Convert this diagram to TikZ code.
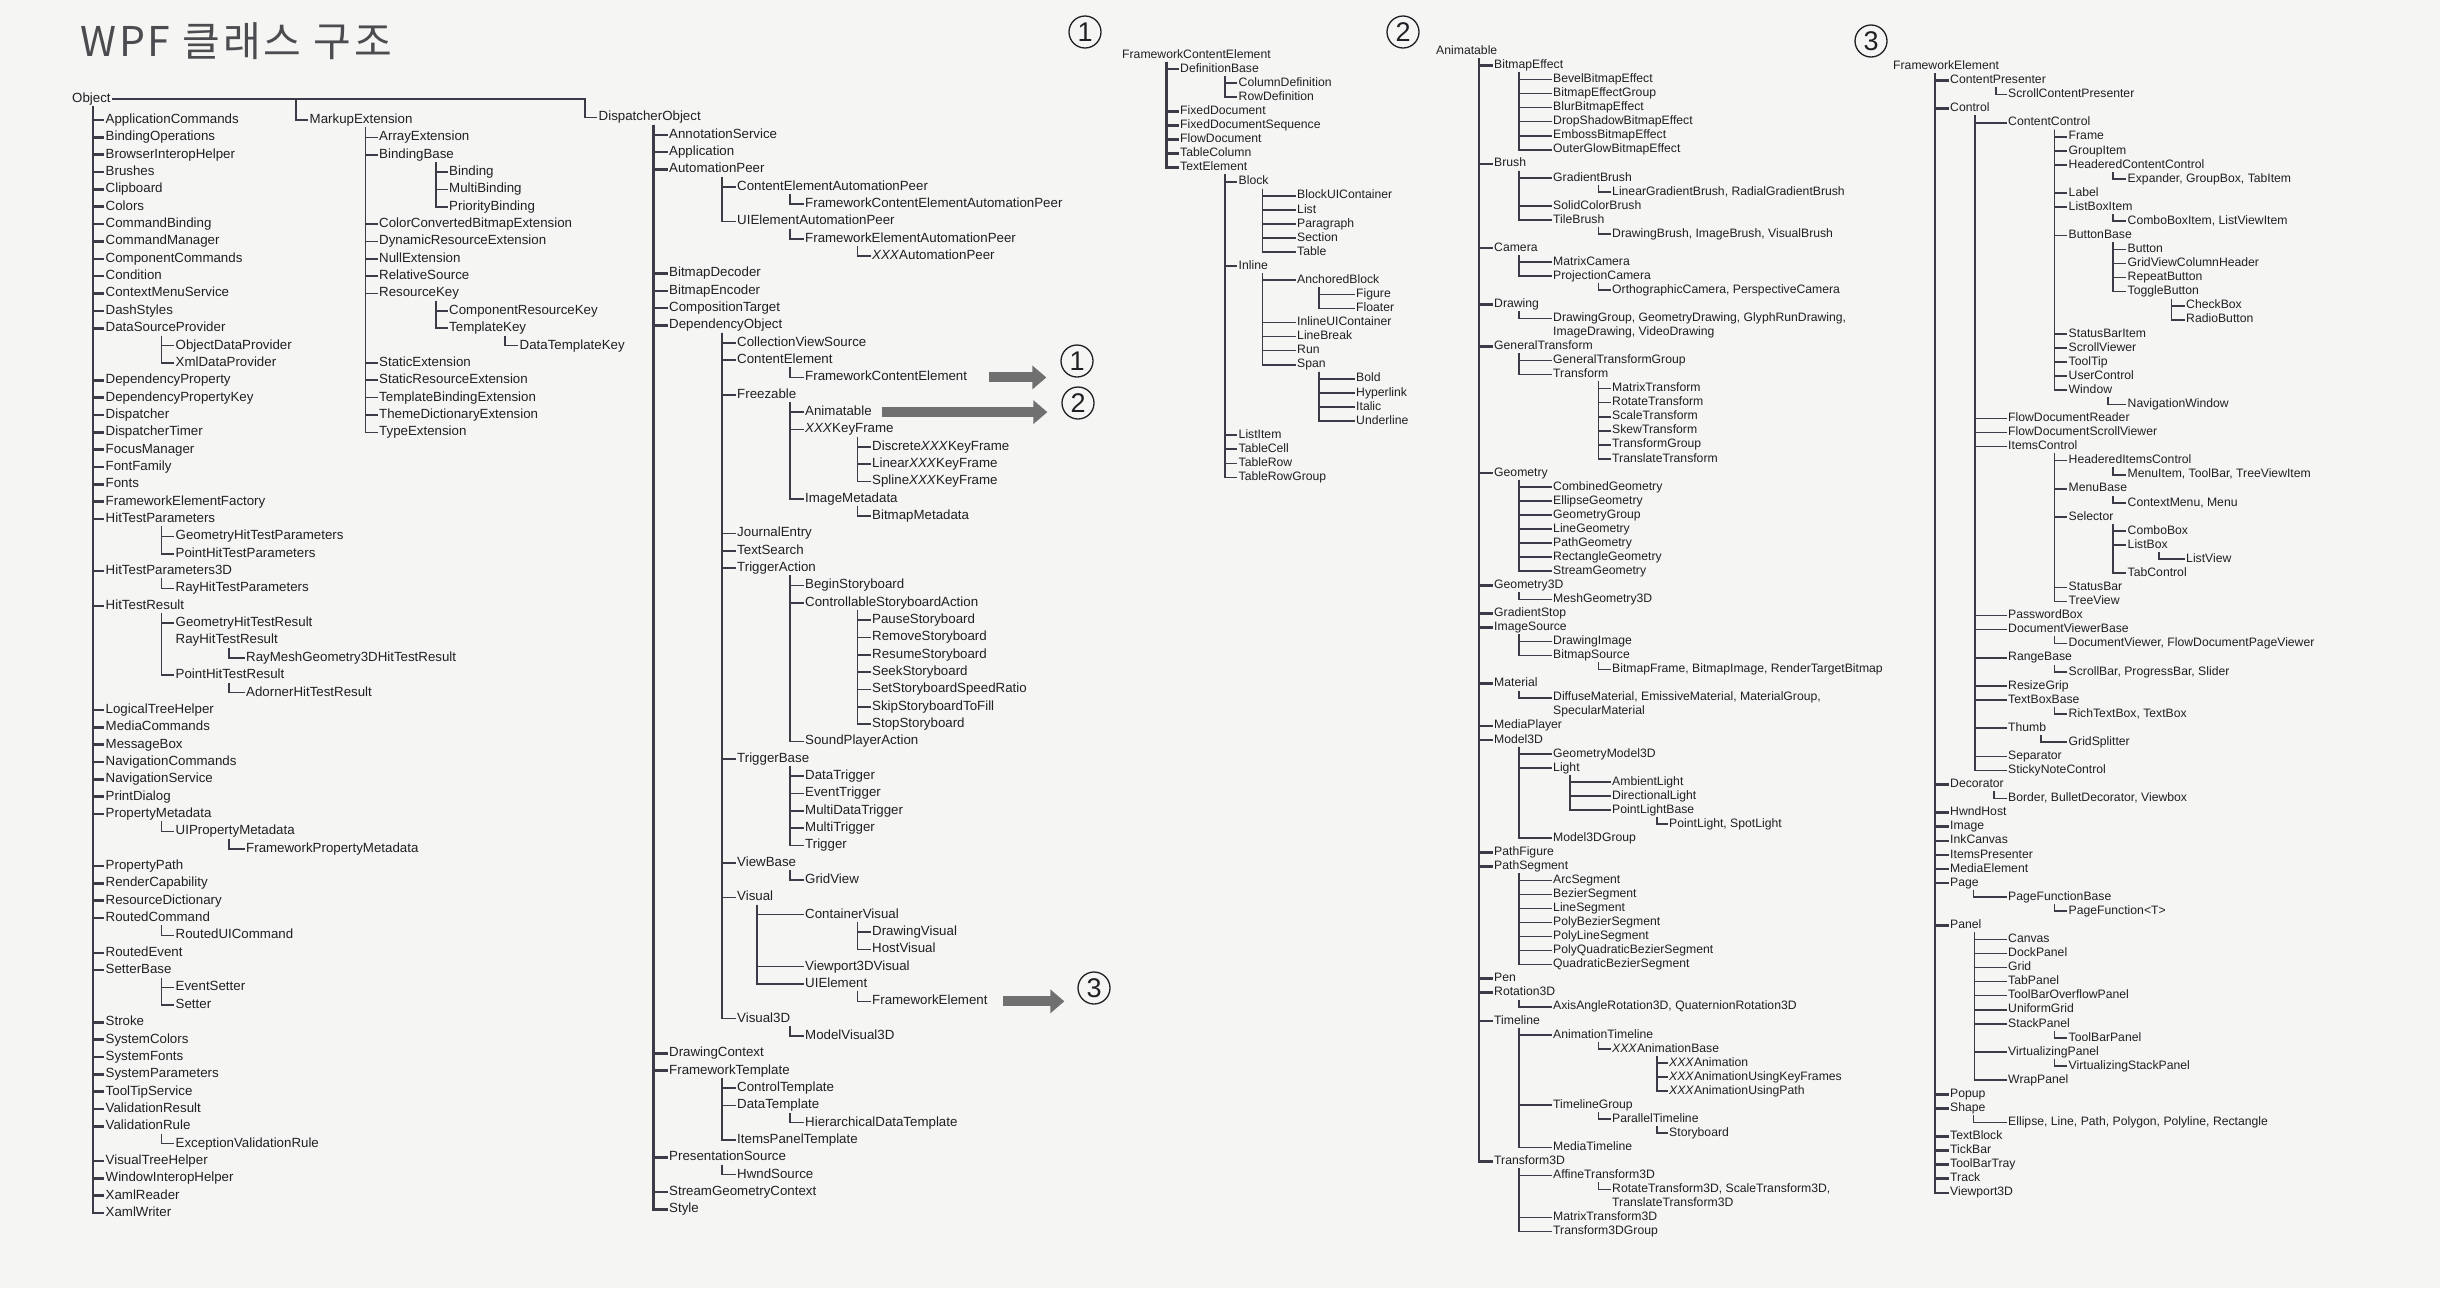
\documentclass[tikz,border=0pt]{standalone}
\usepackage{fontspec}
\setmainfont{Liberation Sans}
\newfontfamily\kofont[LetterSpace=7]{Noto Sans CJK KR}
\usetikzlibrary{calc,arrows.meta}

\definecolor{ink}{RGB}{32,32,36}
\definecolor{wire}{RGB}{60,60,72}
\definecolor{pointer}{RGB}{112,112,112}
\definecolor{paper}{RGB}{245,245,243}

\tikzset{
  cls/.style={anchor=west,inner xsep=1.5pt,inner ysep=1pt,text height=9.6pt,text depth=2.7pt,text=ink,font=\fontsize{13.3}{14}\selectfont},
  clsb/.style={cls,text height=8.8pt,text depth=2.5pt,font=\fontsize{12.2}{13}\selectfont},
  tie/.style={draw=wire,line width=1.6pt},
  trunk/.style={tie,line width=2.6pt},
  numring/.style={circle,draw=ink,line width=1.3pt,minimum size=32pt,inner sep=0pt,text=ink,font=\fontsize{27}{27}\selectfont},
  jump/.style={draw=pointer,line width=10pt,-{Triangle[length=14pt,width=23pt]}}
}

% parent -> children, elbow from a vertical #3 left of the child text
\newcommand\kids[4][tie]{%
  \foreach \kid in {#4}{\draw[#1] ($(#2.south -| \kid.west)+(-#3,0)$) |- (\kid.west);}}

\begin{document}
\begin{tikzpicture}[x=1pt,y=-1pt]
  \useasboundingbox (0,0) rectangle (2440,1288);
  \fill[paper] (0,0) rectangle (2440,1288);

  \node[anchor=west,inner sep=0pt,text=ink!80,font=\kofont\fontsize{41}{41}\selectfont] (title) at (80,41) {WPF 클래스 구조};

  \node[cls] (obj) at (70.5,99) {Object};

  % Object branch
  \begin{scope}[yshift=-120pt,y=-17.35pt]
    \node[cls] (appcmd) at (104,0) {ApplicationCommands};
    \node[cls] (bindops) at (104,1) {BindingOperations};
    \node[cls] (browser) at (104,2) {BrowserInteropHelper};
    \node[cls] (brushes) at (104,3) {Brushes};
    \node[cls] (clip) at (104,4) {Clipboard};
    \node[cls] (colors) at (104,5) {Colors};
    \node[cls] (cmdbind) at (104,6) {CommandBinding};
    \node[cls] (cmdmgr) at (104,7) {CommandManager};
    \node[cls] (compcmd) at (104,8) {ComponentCommands};
    \node[cls] (cond) at (104,9) {Condition};
    \node[cls] (ctxsvc) at (104,10) {ContextMenuService};
    \node[cls] (dash) at (104,11) {DashStyles};
    \node[cls] (dsprov) at (104,12) {DataSourceProvider};
    \node[cls] (objprov) at (174,13) {ObjectDataProvider};
    \node[cls] (xmlprov) at (174,14) {XmlDataProvider};
    \node[cls] (depprop) at (104,15) {DependencyProperty};
    \node[cls] (deppkey) at (104,16) {DependencyPropertyKey};
    \node[cls] (disp) at (104,17) {Dispatcher};
    \node[cls] (disptimer) at (104,18) {DispatcherTimer};
    \node[cls] (focus) at (104,19) {FocusManager};
    \node[cls] (fontfam) at (104,20) {FontFamily};
    \node[cls] (fonts) at (104,21) {Fonts};
    \node[cls] (fefact) at (104,22) {FrameworkElementFactory};
    \node[cls] (htp) at (104,23) {HitTestParameters};
    \node[cls] (geohtp) at (174,24) {GeometryHitTestParameters};
    \node[cls] (pthtp) at (174,25) {PointHitTestParameters};
    \node[cls] (htp3) at (104,26) {HitTestParameters3D};
    \node[cls] (rayhtp) at (174,27) {RayHitTestParameters};
    \node[cls] (htr) at (104,28) {HitTestResult};
    \node[cls] (geohtr) at (174,29) {GeometryHitTestResult};
    \node[cls] (rayhtr) at (174,30) {RayHitTestResult};
    \node[cls] (meshhtr) at (244.5,31) {RayMeshGeometry3DHitTestResult};
    \node[cls] (pthtr) at (174,32) {PointHitTestResult};
    \node[cls] (adorner) at (244.5,33) {AdornerHitTestResult};
    \node[cls] (logical) at (104,34) {LogicalTreeHelper};
    \node[cls] (mediacmd) at (104,35) {MediaCommands};
    \node[cls] (msgbox) at (104,36) {MessageBox};
    \node[cls] (navcmd) at (104,37) {NavigationCommands};
    \node[cls] (navsvc) at (104,38) {NavigationService};
    \node[cls] (printdlg) at (104,39) {PrintDialog};
    \node[cls] (propmeta) at (104,40) {PropertyMetadata};
    \node[cls] (uipmeta) at (174,41) {UIPropertyMetadata};
    \node[cls] (fwpmeta) at (244.5,42) {FrameworkPropertyMetadata};
    \node[cls] (proppath) at (104,43) {PropertyPath};
    \node[cls] (rendercap) at (104,44) {RenderCapability};
    \node[cls] (resdict) at (104,45) {ResourceDictionary};
    \node[cls] (routedcmd) at (104,46) {RoutedCommand};
    \node[cls] (routeduicmd) at (174,47) {RoutedUICommand};
    \node[cls] (routedevt) at (104,48) {RoutedEvent};
    \node[cls] (setterbase) at (104,49) {SetterBase};
    \node[cls] (evsetter) at (174,50) {EventSetter};
    \node[cls] (setter) at (174,51) {Setter};
    \node[cls] (stroke) at (104,52) {Stroke};
    \node[cls] (syscolors) at (104,53) {SystemColors};
    \node[cls] (sysfonts) at (104,54) {SystemFonts};
    \node[cls] (sysparams) at (104,55) {SystemParameters};
    \node[cls] (tipsvc) at (104,56) {ToolTipService};
    \node[cls] (valres) at (104,57) {ValidationResult};
    \node[cls] (valrule) at (104,58) {ValidationRule};
    \node[cls] (excrule) at (174,59) {ExceptionValidationRule};
    \node[cls] (vishelp) at (104,60) {VisualTreeHelper};
    \node[cls] (wininterop) at (104,61) {WindowInteropHelper};
    \node[cls] (xamlread) at (104,62) {XamlReader};
    \node[cls] (xamlwrite) at (104,63) {XamlWriter};
    % MarkupExtension branch
    \node[cls] (mext) at (308,0) {MarkupExtension};
    \node[cls] (arrayext) at (377.5,1) {ArrayExtension};
    \node[cls] (bindbase) at (377.5,2) {BindingBase};
    \node[cls] (binding) at (447.5,3) {Binding};
    \node[cls] (multibind) at (447.5,4) {MultiBinding};
    \node[cls] (prioritybind) at (447.5,5) {PriorityBinding};
    \node[cls] (colorconv) at (377.5,6) {ColorConvertedBitmapExtension};
    \node[cls] (dynres) at (377.5,7) {DynamicResourceExtension};
    \node[cls] (nullext) at (377.5,8) {NullExtension};
    \node[cls] (relsrc) at (377.5,9) {RelativeSource};
    \node[cls] (reskey) at (377.5,10) {ResourceKey};
    \node[cls] (compreskey) at (447.5,11) {ComponentResourceKey};
    \node[cls] (tmplkey) at (447.5,12) {TemplateKey};
    \node[cls] (datatmplkey) at (518,13) {DataTemplateKey};
    \node[cls] (staticext) at (377.5,14) {StaticExtension};
    \node[cls] (staticres) at (377.5,15) {StaticResourceExtension};
    \node[cls] (tmplbind) at (377.5,16) {TemplateBindingExtension};
    \node[cls] (themedict) at (377.5,17) {ThemeDictionaryExtension};
    \node[cls] (typeext) at (377.5,18) {TypeExtension};
  \end{scope}

  % DispatcherObject branch
  \begin{scope}[yshift=-117.5pt,y=-17.33pt]
    \node[cls] (dobj) at (597,0) {DispatcherObject};
    \node[cls] (annot) at (667.5,1) {AnnotationService};
    \node[cls] (app) at (667.5,2) {Application};
    \node[cls] (autopeer) at (667.5,3) {AutomationPeer};
    \node[cls] (ceap) at (735.5,4) {ContentElementAutomationPeer};
    \node[cls] (fceap) at (803.5,5) {FrameworkContentElementAutomationPeer};
    \node[cls] (uieap) at (735.5,6) {UIElementAutomationPeer};
    \node[cls] (feap) at (803.5,7) {FrameworkElementAutomationPeer};
    \node[cls] (xxxap) at (870.5,8) {\textit{XXX}AutomationPeer};
    \node[cls] (bmpdec) at (667.5,9) {BitmapDecoder};
    \node[cls] (bmpenc) at (667.5,10) {BitmapEncoder};
    \node[cls] (comptgt) at (667.5,11) {CompositionTarget};
    \node[cls] (depobj) at (667.5,12) {DependencyObject};
    \node[cls] (cvs) at (735.5,13) {CollectionViewSource};
    \node[cls] (contentel) at (735.5,14) {ContentElement};
    \node[cls] (fce) at (803.5,15) {FrameworkContentElement};
    \node[cls] (freez) at (735.5,16) {Freezable};
    \node[cls] (anim) at (803.5,17) {Animatable};
    \node[cls] (keyframe) at (803.5,18) {\textit{XXX}KeyFrame};
    \node[cls] (discrete) at (870.5,19) {Discrete\textit{XXX}KeyFrame};
    \node[cls] (linear) at (870.5,20) {Linear\textit{XXX}KeyFrame};
    \node[cls] (spline) at (870.5,21) {Spline\textit{XXX}KeyFrame};
    \node[cls] (imgmeta) at (803.5,22) {ImageMetadata};
    \node[cls] (bmpmeta) at (870.5,23) {BitmapMetadata};
    \node[cls] (journal) at (735.5,24) {JournalEntry};
    \node[cls] (textsearch) at (735.5,25) {TextSearch};
    \node[cls] (trigact) at (735.5,26) {TriggerAction};
    \node[cls] (beginsb) at (803.5,27) {BeginStoryboard};
    \node[cls] (ctrlsb) at (803.5,28) {ControllableStoryboardAction};
    \node[cls] (pausesb) at (870.5,29) {PauseStoryboard};
    \node[cls] (removesb) at (870.5,30) {RemoveStoryboard};
    \node[cls] (resumesb) at (870.5,31) {ResumeStoryboard};
    \node[cls] (seeksb) at (870.5,32) {SeekStoryboard};
    \node[cls] (speedsb) at (870.5,33) {SetStoryboardSpeedRatio};
    \node[cls] (skipsb) at (870.5,34) {SkipStoryboardToFill};
    \node[cls] (stopsb) at (870.5,35) {StopStoryboard};
    \node[cls] (soundact) at (803.5,36) {SoundPlayerAction};
    \node[cls] (trigbase) at (735.5,37) {TriggerBase};
    \node[cls] (datatrig) at (803.5,38) {DataTrigger};
    \node[cls] (evtrig) at (803.5,39) {EventTrigger};
    \node[cls] (mdatatrig) at (803.5,40) {MultiDataTrigger};
    \node[cls] (multitrig) at (803.5,41) {MultiTrigger};
    \node[cls] (trig) at (803.5,42) {Trigger};
    \node[cls] (viewbase) at (735.5,43) {ViewBase};
    \node[cls] (gridview) at (803.5,44) {GridView};
    \node[cls] (visual) at (735.5,45) {Visual};
    \node[cls] (contvis) at (803.5,46) {ContainerVisual};
    \node[cls] (drawvis) at (870.5,47) {DrawingVisual};
    \node[cls] (hostvis) at (870.5,48) {HostVisual};
    \node[cls] (vp3dvis) at (803.5,49) {Viewport3DVisual};
    \node[cls] (uielem) at (803.5,50) {UIElement};
    \node[cls] (fwelem) at (870.5,51) {FrameworkElement};
    \node[cls] (visual3d) at (735.5,52) {Visual3D};
    \node[cls] (modelvis) at (803.5,53) {ModelVisual3D};
    \node[cls] (drawctx) at (667.5,54) {DrawingContext};
    \node[cls] (fwtmpl) at (667.5,55) {FrameworkTemplate};
    \node[cls] (ctltmpl) at (735.5,56) {ControlTemplate};
    \node[cls] (datatmpl) at (735.5,57) {DataTemplate};
    \node[cls] (hiertmpl) at (803.5,58) {HierarchicalDataTemplate};
    \node[cls] (itemstmpl) at (735.5,59) {ItemsPanelTemplate};
    \node[cls] (presrc) at (667.5,60) {PresentationSource};
    \node[cls] (hwndsrc) at (735.5,61) {HwndSource};
    \node[cls] (sgctx) at (667.5,62) {StreamGeometryContext};
    \node[cls] (style) at (667.5,63) {Style};
  \end{scope}

  % part 1: FrameworkContentElement
  \begin{scope}[yshift=-55pt,y=-14.08pt]
    \node[clsb] (fceroot) at (1120.5,0) {FrameworkContentElement};
    \node[clsb] (defbase) at (1178.5,1) {DefinitionBase};
    \node[clsb] (coldef) at (1237,2) {ColumnDefinition};
    \node[clsb] (rowdef) at (1237,3) {RowDefinition};
    \node[clsb] (fixeddoc) at (1178.5,4) {FixedDocument};
    \node[clsb] (fixedseq) at (1178.5,5) {FixedDocumentSequence};
    \node[clsb] (flowdoc) at (1178.5,6) {FlowDocument};
    \node[clsb] (tablecol) at (1178.5,7) {TableColumn};
    \node[clsb] (textel) at (1178.5,8) {TextElement};
    \node[clsb] (block) at (1237,9) {Block};
    \node[clsb] (blockui) at (1295.5,10) {BlockUIContainer};
    \node[clsb] (list) at (1295.5,11) {List};
    \node[clsb] (para) at (1295.5,12) {Paragraph};
    \node[clsb] (section) at (1295.5,13) {Section};
    \node[clsb] (table) at (1295.5,14) {Table};
    \node[clsb] (inline) at (1237,15) {Inline};
    \node[clsb] (anchored) at (1295.5,16) {AnchoredBlock};
    \node[clsb] (figure) at (1354.5,17) {Figure};
    \node[clsb] (floater) at (1354.5,18) {Floater};
    \node[clsb] (inlineui) at (1295.5,19) {InlineUIContainer};
    \node[clsb] (linebreak) at (1295.5,20) {LineBreak};
    \node[clsb] (run) at (1295.5,21) {Run};
    \node[clsb] (span) at (1295.5,22) {Span};
    \node[clsb] (bold) at (1354.5,23) {Bold};
    \node[clsb] (hyperlink) at (1354.5,24) {Hyperlink};
    \node[clsb] (italic) at (1354.5,25) {Italic};
    \node[clsb] (underline) at (1354.5,26) {Underline};
    \node[clsb] (listitem) at (1237,27) {ListItem};
    \node[clsb] (tablecell) at (1237,28) {TableCell};
    \node[clsb] (tablerow) at (1237,29) {TableRow};
    \node[clsb] (tablerowgrp) at (1237,30) {TableRowGroup};
  \end{scope}

  % part 2: Animatable
  \begin{scope}[yshift=-51.4pt,y=-14.05pt]
    \node[clsb] (animroot) at (1434.5,0) {Animatable};
    \node[clsb] (bmpeff) at (1492.5,1) {BitmapEffect};
    \node[clsb] (bevel) at (1551.5,2) {BevelBitmapEffect};
    \node[clsb] (bmpeffgrp) at (1551.5,3) {BitmapEffectGroup};
    \node[clsb] (blur) at (1551.5,4) {BlurBitmapEffect};
    \node[clsb] (dropshadow) at (1551.5,5) {DropShadowBitmapEffect};
    \node[clsb] (emboss) at (1551.5,6) {EmbossBitmapEffect};
    \node[clsb] (outerglow) at (1551.5,7) {OuterGlowBitmapEffect};
    \node[clsb] (brush) at (1492.5,8) {Brush};
    \node[clsb] (gradbrush) at (1551.5,9) {GradientBrush};
    \node[clsb] (gradkids) at (1610.5,10) {LinearGradientBrush, RadialGradientBrush};
    \node[clsb] (solidbrush) at (1551.5,11) {SolidColorBrush};
    \node[clsb] (tilebrush) at (1551.5,12) {TileBrush};
    \node[clsb] (tilekids) at (1610.5,13) {DrawingBrush, ImageBrush, VisualBrush};
    \node[clsb] (camera) at (1492.5,14) {Camera};
    \node[clsb] (matcam) at (1551.5,15) {MatrixCamera};
    \node[clsb] (projcam) at (1551.5,16) {ProjectionCamera};
    \node[clsb] (projkids) at (1610.5,17) {OrthographicCamera, PerspectiveCamera};
    \node[clsb] (drawing) at (1492.5,18) {Drawing};
    \node[clsb] (drawkids) at (1551.5,19) {DrawingGroup, GeometryDrawing, GlyphRunDrawing,};
    \node[clsb] (drawkidsb) at (1551.5,20) {ImageDrawing, VideoDrawing};
    \node[clsb] (gentrans) at (1492.5,21) {GeneralTransform};
    \node[clsb] (gentransgrp) at (1551.5,22) {GeneralTransformGroup};
    \node[clsb] (transform) at (1551.5,23) {Transform};
    \node[clsb] (mattrans) at (1610.5,24) {MatrixTransform};
    \node[clsb] (rottrans) at (1610.5,25) {RotateTransform};
    \node[clsb] (scaletrans) at (1610.5,26) {ScaleTransform};
    \node[clsb] (skewtrans) at (1610.5,27) {SkewTransform};
    \node[clsb] (transgrp) at (1610.5,28) {TransformGroup};
    \node[clsb] (transltrans) at (1610.5,29) {TranslateTransform};
    \node[clsb] (geometry) at (1492.5,30) {Geometry};
    \node[clsb] (combgeo) at (1551.5,31) {CombinedGeometry};
    \node[clsb] (ellgeo) at (1551.5,32) {EllipseGeometry};
    \node[clsb] (geogrp) at (1551.5,33) {GeometryGroup};
    \node[clsb] (linegeo) at (1551.5,34) {LineGeometry};
    \node[clsb] (pathgeo) at (1551.5,35) {PathGeometry};
    \node[clsb] (rectgeo) at (1551.5,36) {RectangleGeometry};
    \node[clsb] (streamgeo) at (1551.5,37) {StreamGeometry};
    \node[clsb] (geo3d) at (1492.5,38) {Geometry3D};
    \node[clsb] (meshgeo) at (1551.5,39) {MeshGeometry3D};
    \node[clsb] (gradstop) at (1492.5,40) {GradientStop};
    \node[clsb] (imgsrc) at (1492.5,41) {ImageSource};
    \node[clsb] (drawimg) at (1551.5,42) {DrawingImage};
    \node[clsb] (bmpsrc) at (1551.5,43) {BitmapSource};
    \node[clsb] (bmpsrckids) at (1610.5,44) {BitmapFrame, BitmapImage, RenderTargetBitmap};
    \node[clsb] (material) at (1492.5,45) {Material};
    \node[clsb] (matkids) at (1551.5,46) {DiffuseMaterial, EmissiveMaterial, MaterialGroup,};
    \node[clsb] (matkidsb) at (1551.5,47) {SpecularMaterial};
    \node[clsb] (mediaplayer) at (1492.5,48) {MediaPlayer};
    \node[clsb] (model3d) at (1492.5,49) {Model3D};
    \node[clsb] (geomodel) at (1551.5,50) {GeometryModel3D};
    \node[clsb] (light) at (1551.5,51) {Light};
    \node[clsb] (ambient) at (1610.5,52) {AmbientLight};
    \node[clsb] (directional) at (1610.5,53) {DirectionalLight};
    \node[clsb] (pointbase) at (1610.5,54) {PointLightBase};
    \node[clsb] (pointkids) at (1667.5,55) {PointLight, SpotLight};
    \node[clsb] (model3dgrp) at (1551.5,56) {Model3DGroup};
    \node[clsb] (pathfig) at (1492.5,57) {PathFigure};
    \node[clsb] (pathseg) at (1492.5,58) {PathSegment};
    \node[clsb] (arcseg) at (1551.5,59) {ArcSegment};
    \node[clsb] (bezseg) at (1551.5,60) {BezierSegment};
    \node[clsb] (lineseg) at (1551.5,61) {LineSegment};
    \node[clsb] (polybez) at (1551.5,62) {PolyBezierSegment};
    \node[clsb] (polylineseg) at (1551.5,63) {PolyLineSegment};
    \node[clsb] (polyquad) at (1551.5,64) {PolyQuadraticBezierSegment};
    \node[clsb] (quadbez) at (1551.5,65) {QuadraticBezierSegment};
    \node[clsb] (pen) at (1492.5,66) {Pen};
    \node[clsb] (rot3d) at (1492.5,67) {Rotation3D};
    \node[clsb] (rot3dkids) at (1551.5,68) {AxisAngleRotation3D, QuaternionRotation3D};
    \node[clsb] (timeline) at (1492.5,69) {Timeline};
    \node[clsb] (animtl) at (1551.5,70) {AnimationTimeline};
    \node[clsb] (animbase) at (1610.5,71) {\textit{XXX}AnimationBase};
    \node[clsb] (xanim) at (1667.5,72) {\textit{XXX}Animation};
    \node[clsb] (xanimkf) at (1667.5,73) {\textit{XXX}AnimationUsingKeyFrames};
    \node[clsb] (xanimpath) at (1667.5,74) {\textit{XXX}AnimationUsingPath};
    \node[clsb] (tlgroup) at (1551.5,75) {TimelineGroup};
    \node[clsb] (paralleltl) at (1610.5,76) {ParallelTimeline};
    \node[clsb] (storyboard) at (1667.5,77) {Storyboard};
    \node[clsb] (mediatl) at (1551.5,78) {MediaTimeline};
    \node[clsb] (trans3d) at (1492.5,79) {Transform3D};
    \node[clsb] (affine3d) at (1551.5,80) {AffineTransform3D};
    \node[clsb] (affinekids) at (1610.5,81) {RotateTransform3D, ScaleTransform3D,};
    \node[clsb] (affinekidsb) at (1610.5,82) {TranslateTransform3D};
    \node[clsb] (mattrans3d) at (1551.5,83) {MatrixTransform3D};
    \node[clsb] (trans3dgrp) at (1551.5,84) {Transform3DGroup};
  \end{scope}

  % part 3: FrameworkElement
  \begin{scope}[yshift=-66.4pt,y=-14.08pt]
    \node[clsb] (fwroot) at (1891.5,0) {FrameworkElement};
    \node[clsb] (contpres) at (1948.5,1) {ContentPresenter};
    \node[clsb] (scrollcp) at (2006.5,2) {ScrollContentPresenter};
    \node[clsb] (control) at (1948.5,3) {Control};
    \node[clsb] (contctl) at (2006.5,4) {ContentControl};
    \node[clsb] (frame) at (2067,5) {Frame};
    \node[clsb] (groupitem) at (2067,6) {GroupItem};
    \node[clsb] (hcc) at (2067,7) {HeaderedContentControl};
    \node[clsb] (hcckids) at (2126,8) {Expander, GroupBox, TabItem};
    \node[clsb] (label) at (2067,9) {Label};
    \node[clsb] (lbitem) at (2067,10) {ListBoxItem};
    \node[clsb] (lbikids) at (2126,11) {ComboBoxItem, ListViewItem};
    \node[clsb] (btnbase) at (2067,12) {ButtonBase};
    \node[clsb] (button) at (2126,13) {Button};
    \node[clsb] (gvch) at (2126,14) {GridViewColumnHeader};
    \node[clsb] (repeatbtn) at (2126,15) {RepeatButton};
    \node[clsb] (togglebtn) at (2126,16) {ToggleButton};
    \node[clsb] (checkbox) at (2184.5,17) {CheckBox};
    \node[clsb] (radiobtn) at (2184.5,18) {RadioButton};
    \node[clsb] (sbitem) at (2067,19) {StatusBarItem};
    \node[clsb] (scrollview) at (2067,20) {ScrollViewer};
    \node[clsb] (tooltip) at (2067,21) {ToolTip};
    \node[clsb] (userctl) at (2067,22) {UserControl};
    \node[clsb] (window) at (2067,23) {Window};
    \node[clsb] (navwin) at (2126,24) {NavigationWindow};
    \node[clsb] (fdreader) at (2006.5,25) {FlowDocumentReader};
    \node[clsb] (fdscroll) at (2006.5,26) {FlowDocumentScrollViewer};
    \node[clsb] (itemsctl) at (2006.5,27) {ItemsControl};
    \node[clsb] (hic) at (2067,28) {HeaderedItemsControl};
    \node[clsb] (hickids) at (2126,29) {MenuItem, ToolBar, TreeViewItem};
    \node[clsb] (menubase) at (2067,30) {MenuBase};
    \node[clsb] (menukids) at (2126,31) {ContextMenu, Menu};
    \node[clsb] (selector) at (2067,32) {Selector};
    \node[clsb] (combobox) at (2126,33) {ComboBox};
    \node[clsb] (listbox) at (2126,34) {ListBox};
    \node[clsb] (listview) at (2184.5,35) {ListView};
    \node[clsb] (tabctl) at (2126,36) {TabControl};
    \node[clsb] (statusbar) at (2067,37) {StatusBar};
    \node[clsb] (treeview) at (2067,38) {TreeView};
    \node[clsb] (passwordbox) at (2006.5,39) {PasswordBox};
    \node[clsb] (docviewbase) at (2006.5,40) {DocumentViewerBase};
    \node[clsb] (docviewkids) at (2067,41) {DocumentViewer, FlowDocumentPageViewer};
    \node[clsb] (rangebase) at (2006.5,42) {RangeBase};
    \node[clsb] (rangekids) at (2067,43) {ScrollBar, ProgressBar, Slider};
    \node[clsb] (resizegrip) at (2006.5,44) {ResizeGrip};
    \node[clsb] (textboxbase) at (2006.5,45) {TextBoxBase};
    \node[clsb] (textboxkids) at (2067,46) {RichTextBox, TextBox};
    \node[clsb] (thumb) at (2006.5,47) {Thumb};
    \node[clsb] (gridsplit) at (2067,48) {GridSplitter};
    \node[clsb] (separator) at (2006.5,49) {Separator};
    \node[clsb] (stickynote) at (2006.5,50) {StickyNoteControl};
    \node[clsb] (decorator) at (1948.5,51) {Decorator};
    \node[clsb] (deckids) at (2006.5,52) {Border, BulletDecorator, Viewbox};
    \node[clsb] (hwndhost) at (1948.5,53) {HwndHost};
    \node[clsb] (imagenode) at (1948.5,54) {Image};
    \node[clsb] (inkcanvas) at (1948.5,55) {InkCanvas};
    \node[clsb] (itemspres) at (1948.5,56) {ItemsPresenter};
    \node[clsb] (mediael) at (1948.5,57) {MediaElement};
    \node[clsb] (page) at (1948.5,58) {Page};
    \node[clsb] (pagefuncbase) at (2006.5,59) {PageFunctionBase};
    \node[clsb] (pagefunc) at (2067,60) {PageFunction<T>};
    \node[clsb] (panel) at (1948.5,61) {Panel};
    \node[clsb] (canvas) at (2006.5,62) {Canvas};
    \node[clsb] (dockpanel) at (2006.5,63) {DockPanel};
    \node[clsb] (gridnode) at (2006.5,64) {Grid};
    \node[clsb] (tabpanel) at (2006.5,65) {TabPanel};
    \node[clsb] (tboverflow) at (2006.5,66) {ToolBarOverflowPanel};
    \node[clsb] (unigrid) at (2006.5,67) {UniformGrid};
    \node[clsb] (stackpanel) at (2006.5,68) {StackPanel};
    \node[clsb] (tbpanel) at (2067,69) {ToolBarPanel};
    \node[clsb] (virtpanel) at (2006.5,70) {VirtualizingPanel};
    \node[clsb] (virtstack) at (2067,71) {VirtualizingStackPanel};
    \node[clsb] (wrappanel) at (2006.5,72) {WrapPanel};
    \node[clsb] (popup) at (1948.5,73) {Popup};
    \node[clsb] (shapenode) at (1948.5,74) {Shape};
    \node[clsb] (shapekids) at (2006.5,75) {Ellipse, Line, Path, Polygon, Polyline, Rectangle};
    \node[clsb] (textblock) at (1948.5,76) {TextBlock};
    \node[clsb] (tickbar) at (1948.5,77) {TickBar};
    \node[clsb] (tbtray) at (1948.5,78) {ToolBarTray};
    \node[clsb] (track) at (1948.5,79) {Track};
    \node[clsb] (viewport3d) at (1948.5,80) {Viewport3D};
  \end{scope}

  % circled part numbers and jump arrows
  \node[numring] (ringa) at (1085,32) {1};
  \node[numring] (ringb) at (1403,32) {2};
  \node[numring] (ringc) at (1871,41) {3};
  \node[numring] (pointa) at (1077,361) {1};
  \node[numring] (pointb) at (1078,403) {2};
  \node[numring] (pointc) at (1094,988) {3};
  \draw[jump] ($(fce.east)+(20,0)$) -- ($(pointa.west |- fce.east)+(-14,0)$);
  \draw[jump] ($(anim.east)+(9,0)$) -- ($(pointb.west |- anim.east)+(-14,0)$);
  \draw[jump] ($(fwelem.east)+(14,0)$) -- ($(pointc.west |- fwelem.east)+(-13,0)$);

  % Object connectors
  \draw[tie] (obj.east) -| ($(dobj.west)+(-12,0)$) -- (dobj.west);
  \draw[tie] ($(obj.east -| mext.west)+(-12,0)$) |- (mext.west);
  \kids[trunk]{obj}{11}{appcmd,bindops,browser,brushes,clip,colors,cmdbind,cmdmgr,compcmd,cond,ctxsvc,dash,dsprov,%
    depprop,deppkey,disp,disptimer,focus,fontfam,fonts,fefact,htp,htp3,htr,logical,mediacmd,msgbox,navcmd,navsvc,%
    printdlg,propmeta,proppath,rendercap,resdict,routedcmd,routedevt,setterbase,stroke,syscolors,sysfonts,sysparams,%
    tipsvc,valres,valrule,vishelp,wininterop,xamlread,xamlwrite}
  \kids{dsprov}{12.5}{objprov,xmlprov}
  \kids{htp}{12.5}{geohtp,pthtp}
  \kids{htp3}{12.5}{rayhtp}
  \kids{htr}{12.5}{geohtr,pthtr}
  \kids{rayhtr}{15.5}{meshhtr}
  \kids{pthtr}{15.5}{adorner}
  \kids{propmeta}{12.5}{uipmeta}
  \kids{uipmeta}{15.5}{fwpmeta}
  \kids{routedcmd}{12.5}{routeduicmd}
  \kids{setterbase}{12.5}{evsetter,setter}
  \kids{valrule}{12.5}{excrule}
  \kids{mext}{12}{arrayext,bindbase,colorconv,dynres,nullext,relsrc,reskey,staticext,staticres,tmplbind,themedict,typeext}
  \kids{bindbase}{11.5}{binding,multibind,prioritybind}
  \kids{reskey}{11.5}{compreskey,tmplkey}
  \kids{tmplkey}{13}{datatmplkey}

  % DispatcherObject connectors
  \kids[trunk]{dobj}{14}{annot,app,autopeer,bmpdec,bmpenc,comptgt,depobj,drawctx,fwtmpl,presrc,sgctx,style}
  \kids{autopeer}{13.5}{ceap,uieap}
  \kids{ceap}{13.5}{fceap}
  \kids{uieap}{13.5}{feap}
  \kids{feap}{13}{xxxap}
  \kids{depobj}{13.5}{cvs,contentel,freez,journal,textsearch,trigact,trigbase,viewbase,visual,visual3d}
  \kids{contentel}{13.5}{fce}
  \kids{freez}{13.5}{anim,keyframe,imgmeta}
  \kids{keyframe}{13}{discrete,linear,spline}
  \kids{imgmeta}{13}{bmpmeta}
  \kids{trigact}{13.5}{beginsb,ctrlsb,soundact}
  \kids{ctrlsb}{13}{pausesb,removesb,resumesb,seeksb,speedsb,skipsb,stopsb}
  \kids{trigbase}{13.5}{datatrig,evtrig,mdatatrig,multitrig,trig}
  \kids{viewbase}{13.5}{gridview}
  \kids{visual}{46.8}{contvis,vp3dvis,uielem}
  \kids{contvis}{13}{drawvis,hostvis}
  \kids{uielem}{13}{fwelem}
  \kids{visual3d}{13.5}{modelvis}
  \kids{fwtmpl}{13.5}{ctltmpl,datatmpl,itemstmpl}
  \kids{datatmpl}{13.5}{hiertmpl}
  \kids{presrc}{13.5}{hwndsrc}

  % part 1 connectors
  \kids[trunk]{fceroot}{12}{defbase,fixeddoc,fixedseq,flowdoc,tablecol,textel}
  \kids{defbase}{12}{coldef,rowdef}
  \kids{textel}{12}{block,inline,listitem,tablecell,tablerow,tablerowgrp}
  \kids{block}{33}{blockui,list,para,section,table}
  \kids{inline}{33}{anchored,inlineui,linebreak,run,span}
  \kids{anchored}{35.5}{figure,floater}
  \kids{span}{35.5}{bold,hyperlink,italic,underline}

  % part 2 connectors
  \kids[trunk]{animroot}{13.5}{bmpeff,brush,camera,drawing,gentrans,geometry,geo3d,gradstop,imgsrc,material,%
    mediaplayer,model3d,pathfig,pathseg,pen,rot3d,timeline,trans3d}
  \kids{bmpeff}{32.5}{bevel,bmpeffgrp,blur,dropshadow,emboss,outerglow}
  \kids{brush}{32.5}{gradbrush,solidbrush,tilebrush}
  \kids{gradbrush}{12}{gradkids}
  \kids{tilebrush}{12}{tilekids}
  \kids{camera}{32.5}{matcam,projcam}
  \kids{projcam}{12}{projkids}
  \kids{drawing}{32.5}{drawkids}
  \kids{gentrans}{32.5}{gentransgrp,transform}
  \kids{transform}{12}{mattrans,rottrans,scaletrans,skewtrans,transgrp,transltrans}
  \kids{geometry}{32.5}{combgeo,ellgeo,geogrp,linegeo,pathgeo,rectgeo,streamgeo}
  \kids{geo3d}{32.5}{meshgeo}
  \kids{imgsrc}{32.5}{drawimg,bmpsrc}
  \kids{bmpsrc}{12}{bmpsrckids}
  \kids{material}{32.5}{matkids}
  \kids{model3d}{32.5}{geomodel,light,model3dgrp}
  \kids{light}{40.5}{ambient,directional,pointbase}
  \kids{pointbase}{10.5}{pointkids}
  \kids{pathseg}{32.5}{arcseg,bezseg,lineseg,polybez,polylineseg,polyquad,quadbez}
  \kids{rot3d}{32.5}{rot3dkids}
  \kids{timeline}{32.5}{animtl,tlgroup,mediatl}
  \kids{animtl}{12}{animbase}
  \kids{animbase}{10.5}{xanim,xanimkf,xanimpath}
  \kids{tlgroup}{12}{paralleltl}
  \kids{paralleltl}{10.5}{storyboard}
  \kids{trans3d}{32.5}{affine3d,mattrans3d,trans3dgrp}
  \kids{affine3d}{12}{affinekids}

  % part 3 connectors
  \kids[trunk]{fwroot}{13.5}{contpres,control,decorator,hwndhost,imagenode,inkcanvas,itemspres,mediael,page,panel,%
    popup,shapenode,textblock,tickbar,tbtray,track,viewport3d}
  \kids{contpres}{10.5}{scrollcp}
  \kids{control}{31.5}{contctl,fdreader,fdscroll,itemsctl,passwordbox,docviewbase,rangebase,resizegrip,%
    textboxbase,thumb,separator,stickynote}
  \kids{contctl}{12.5}{frame,groupitem,hcc,label,lbitem,btnbase,sbitem,scrollview,tooltip,userctl,window}
  \kids{hcc}{13}{hcckids}
  \kids{lbitem}{13}{lbikids}
  \kids{btnbase}{13}{button,gvch,repeatbtn,togglebtn}
  \kids{togglebtn}{13}{checkbox,radiobtn}
  \kids{window}{18}{navwin}
  \kids{itemsctl}{12.5}{hic,menubase,selector,statusbar,treeview}
  \kids{hic}{13}{hickids}
  \kids{menubase}{13}{menukids}
  \kids{selector}{13}{combobox,listbox,tabctl}
  \kids{listbox}{25.5}{listview}
  \kids{docviewbase}{12.5}{docviewkids}
  \kids{rangebase}{12.5}{rangekids}
  \kids{textboxbase}{12.5}{textboxkids}
  \kids{thumb}{26}{gridsplit}
  \kids{decorator}{12.5}{deckids}
  \kids{page}{33}{pagefuncbase}
  \kids{pagefuncbase}{12.5}{pagefunc}
  \kids{panel}{32}{canvas,dockpanel,gridnode,tabpanel,tboverflow,unigrid,stackpanel,virtpanel,wrappanel}
  \kids{stackpanel}{12.5}{tbpanel}
  \kids{virtpanel}{12.5}{virtstack}
  \kids{shapenode}{33}{shapekids}
\end{tikzpicture}
\end{document}
